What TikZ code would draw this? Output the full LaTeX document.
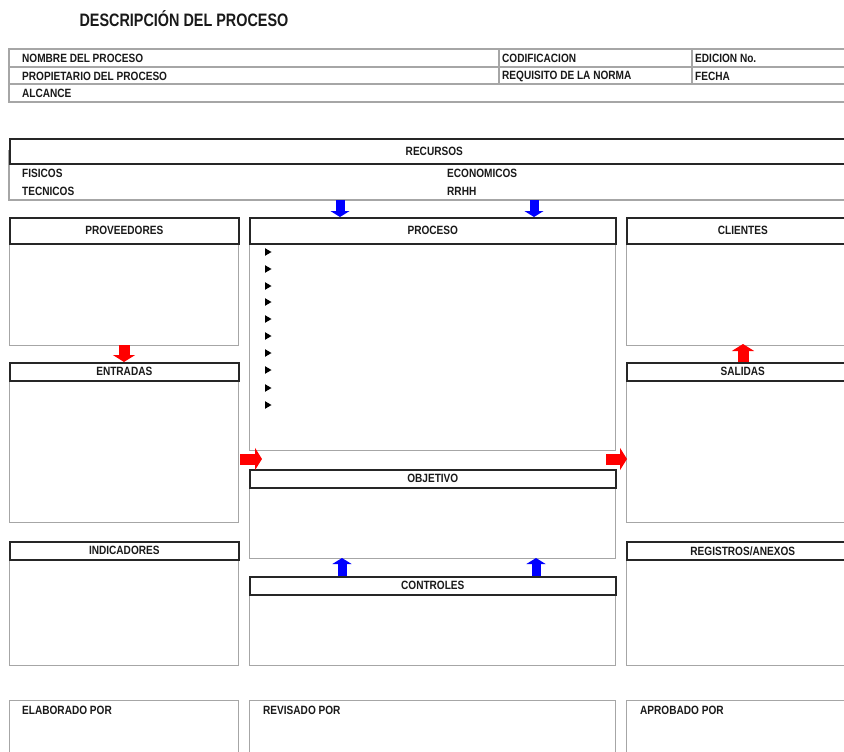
\documentclass[tikz,border=0pt]{standalone}
\usepackage{fontspec}
\setmainfont{Liberation Sans}[FakeStretch=0.84]
\newfontfamily\titlefam{Liberation Sans}[FakeStretch=0.8]
\usetikzlibrary{arrows.meta}
\newcommand\hdrfont{\bfseries\fontsize{12}{13}\selectfont}
\newcommand\ttlfont{\titlefam\bfseries\fontsize{18}{20}\selectfont}

\begin{document}
\begin{tikzpicture}[x=1pt,y=-1pt,
  gridline/.style={draw=gray!70, line width=1.2pt},
  hdr/.style={draw=black!85, line width=1.6pt, fill=white, inner sep=0pt,
              anchor=north west, font=\hdrfont, text=black!90},
  panel/.style={draw=gray!70, line width=1.2pt, inner sep=0pt, anchor=north west},
  lbl/.style={anchor=west, inner sep=0pt, font=\hdrfont, text=black!90},
  bluearrow/.style={draw=blue, line width=9pt, -{Triangle[length=6pt,width=19pt]}},
  redarrow/.style={draw=red, line width=11pt, -{Triangle[length=7pt,width=22pt]}},
]
\useasboundingbox (0,0) rectangle (844,752);
\clip (0,0) rectangle (844,752);
\fill[white] (0,0) rectangle (844,752);

% title
\node[font=\ttlfont, text=black!90] (title) at (184,19) {DESCRIPCIÓN DEL PROCESO};

% identification table
\draw[gridline] (9,49) rectangle (870,102);
\draw[gridline] (9,67) -- (870,67) (9,84) -- (870,84);
\draw[gridline] (499,49) -- (499,84) (692,49) -- (692,84);
\node[lbl] (nombre) at (22,58) {NOMBRE DEL PROCESO};
\node[lbl] (propietario) at (22,76) {PROPIETARIO DEL PROCESO};
\node[lbl] (alcance) at (22,93) {ALCANCE};
\node[lbl] (codif) at (502,58) {CODIFICACION};
\node[lbl] (requisito) at (502,76) {REQUISITO DE LA NORMA};
\node[lbl] (edicion) at (695,58) {EDICION No.};
\node[lbl] (fecha) at (695,76) {FECHA};

% resources band
\draw[gridline] (9,150) -- (9,200) -- (870,200);
\node[hdr, minimum width=849pt, minimum height=25pt] (recursos) at (9,138) {RECURSOS};
\node[lbl] (fisicos) at (22,173) {FISICOS};
\node[lbl] (tecnicos) at (22,191) {TECNICOS};
\node[lbl] (economicos) at (447,173) {ECONOMICOS};
\node[lbl] (rrhh) at (447,191) {RRHH};

% left column
\node[panel, minimum width=229pt, minimum height=128pt] (prov) at (9,217) {};
\node[hdr, minimum width=229pt, minimum height=26pt] (provh) at (9,217) {PROVEEDORES};
\node[panel, minimum width=229pt, minimum height=160pt] (entr) at (9,362) {};
\node[hdr, minimum width=229pt, minimum height=18pt] (entrh) at (9,362) {ENTRADAS};
\node[panel, minimum width=229pt, minimum height=124pt] (indic) at (9,541) {};
\node[hdr, minimum width=229pt, minimum height=18pt] (indich) at (9,541) {INDICADORES};

% centre column
\node[panel, minimum width=366pt, minimum height=233pt] (proc) at (249,217) {};
\node[hdr, minimum width=366pt, minimum height=26pt] (proch) at (249,217) {PROCESO};
\node[panel, minimum width=366pt, minimum height=89pt] (obj) at (249,469) {};
\node[hdr, minimum width=366pt, minimum height=18pt] (objh) at (249,469) {OBJETIVO};
\node[panel, minimum width=366pt, minimum height=89pt] (ctrl) at (249,576) {};
\node[hdr, minimum width=366pt, minimum height=18pt] (ctrlh) at (249,576) {CONTROLES};

% right column
\node[panel, minimum width=232pt, minimum height=128pt] (cli) at (626,217) {};
\node[hdr, minimum width=232pt, minimum height=26pt] (clih) at (626,217) {CLIENTES};
\node[panel, minimum width=232pt, minimum height=160pt] (sal) at (626,362) {};
\node[hdr, minimum width=232pt, minimum height=18pt] (salh) at (626,362) {SALIDAS};
\node[panel, minimum width=232pt, minimum height=124pt] (reg) at (626,541) {};
\node[hdr, minimum width=232pt, minimum height=18pt] (regh) at (626,541) {REGISTROS/ANEXOS};

% signature boxes
\node[panel, minimum width=229pt, minimum height=80pt] (elab) at (9,700) {};
\node[panel, minimum width=366pt, minimum height=80pt] (rev) at (249,700) {};
\node[panel, minimum width=232pt, minimum height=80pt] (aprob) at (626,700) {};
\node[lbl] (elabt) at (22,710) {ELABORADO POR};
\node[lbl] (revt) at (263,710) {REVISADO POR};
\node[lbl] (aprobt) at (640,710) {APROBADO POR};

% process step bullets
\foreach \yy in {252,269,286,302,319,336,353,370,388,405}
  \fill[black] (265,\yy-3.8) -- (271.5,\yy) -- (265,\yy+3.8) -- cycle;

% flow arrows
\coordinate (rA) at (340,200);  \coordinate (pA) at (340,217);
\coordinate (rB) at (534,200);  \coordinate (pB) at (534,217);
\coordinate (pv) at (124,345);  \coordinate (en) at (124,362);
\coordinate (sa) at (743,362);  \coordinate (cl) at (743,344);
\coordinate (eL) at (240,459);  \coordinate (oL) at (262,459);
\coordinate (oR) at (606,459);  \coordinate (sR) at (627,459);
\coordinate (cA) at (342,576);  \coordinate (bA) at (342,558);
\coordinate (cB) at (536,576);  \coordinate (bB) at (536,558);

\draw[bluearrow] (rA) -- (pA);
\draw[bluearrow] (rB) -- (pB);
\draw[redarrow] (pv) -- (en);
\draw[redarrow] (sa) -- (cl);
\draw[redarrow] (eL) -- (oL);
\draw[redarrow] (oR) -- (sR);
\draw[bluearrow] (cA) -- (bA);
\draw[bluearrow] (cB) -- (bB);
\end{tikzpicture}
\end{document}
